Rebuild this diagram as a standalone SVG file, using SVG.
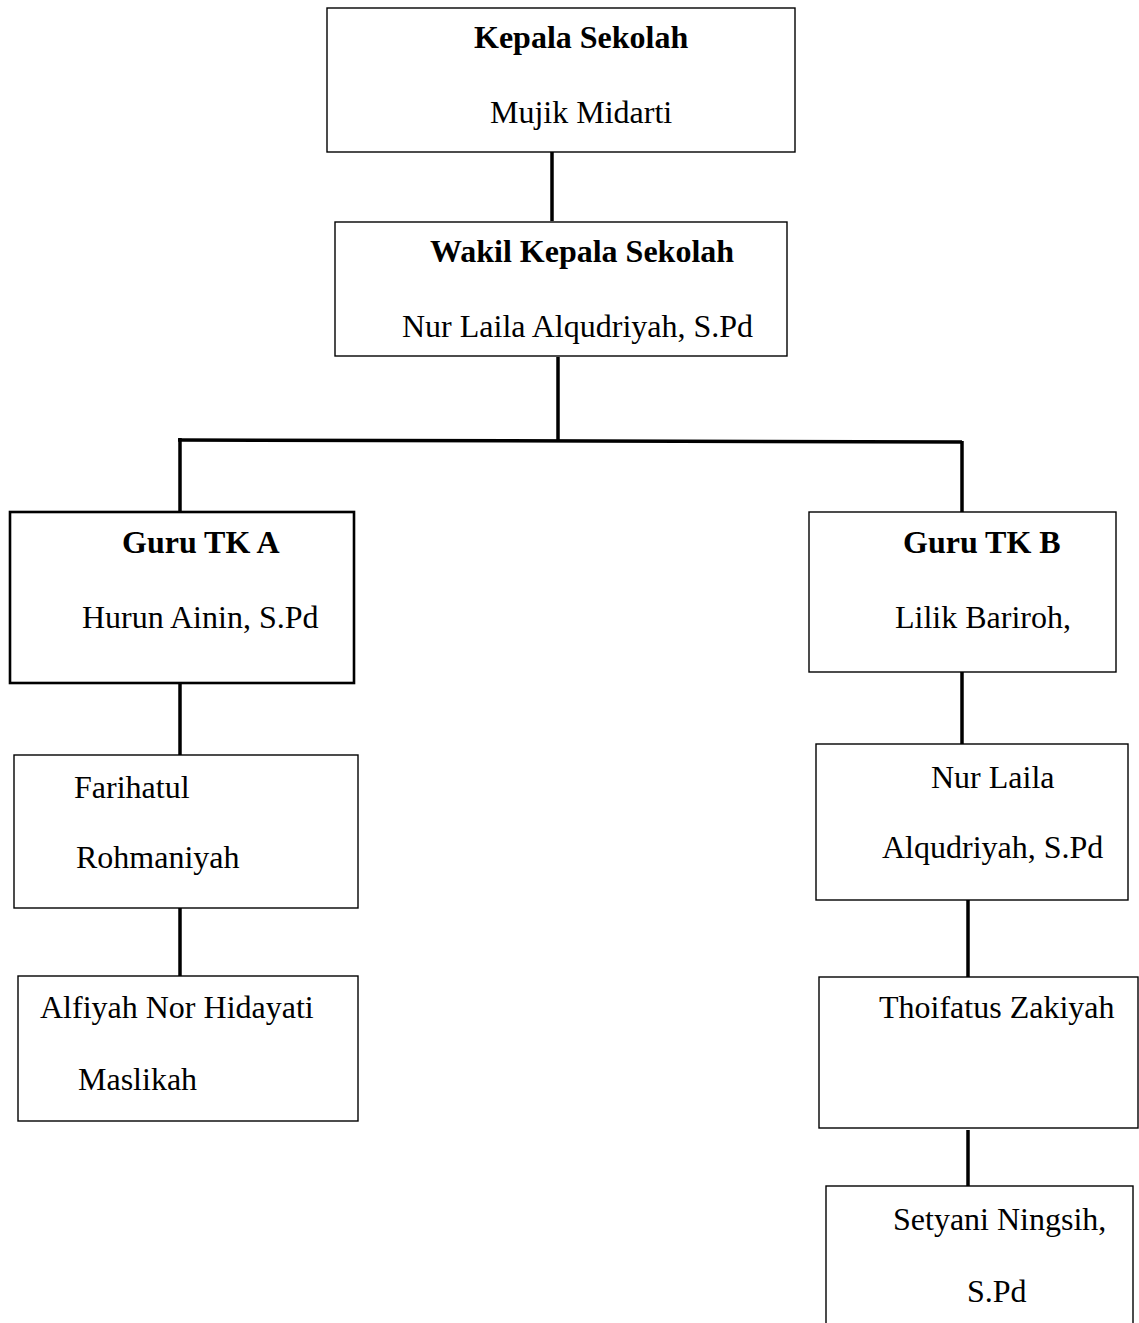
<svg xmlns="http://www.w3.org/2000/svg" width="1139" height="1323" viewBox="0 0 1139 1323">
<style>
.box{fill:#fff;stroke:#000;stroke-width:1.4}
.thick{stroke-width:2.6}
.t{font-family:"Liberation Serif","Times New Roman",serif;font-size:32px;fill:#000}
.b{font-weight:bold}
.c{stroke:#000;stroke-width:3.5;fill:none}
</style>
<rect width="1139" height="1323" fill="#fff"/>
<g id="connectors">
<line class="c" x1="552" y1="152" x2="552" y2="221"/>
<line class="c" x1="558" y1="357" x2="558" y2="441"/>
<line class="c" x1="178" y1="440" x2="962" y2="442"/>
<line class="c" x1="180" y1="438" x2="180" y2="512"/>
<line class="c" x1="962" y1="441" x2="962" y2="512"/>
<line class="c" x1="180" y1="683" x2="180" y2="755"/>
<line class="c" x1="180" y1="908" x2="180" y2="976"/>
<line class="c" x1="962" y1="672" x2="962" y2="744"/>
<line class="c" x1="968" y1="900" x2="968" y2="977"/>
<line class="c" x1="968" y1="1130" x2="968" y2="1186"/>
</g>
<g id="kepala">
<rect class="box" x="327" y="8" width="468" height="144"/>
<text class="t b" x="474" y="48">Kepala Sekolah</text>
<text class="t" x="490" y="123">Mujik Midarti</text>
</g>
<g id="wakil">
<rect class="box" x="335" y="222" width="452" height="134"/>
<text class="t b" x="430" y="262">Wakil Kepala Sekolah</text>
<text class="t" x="402" y="337">Nur Laila Alqudriyah, S.Pd</text>
</g>
<g id="gurua">
<rect class="box thick" x="10" y="512" width="344" height="171"/>
<text class="t b" x="122" y="553">Guru TK A</text>
<text class="t" x="82" y="628">Hurun Ainin, S.Pd</text>
</g>
<g id="farihatul">
<rect class="box" x="14" y="755" width="344" height="153"/>
<text class="t" x="74" y="798">Farihatul</text>
<text class="t" x="76" y="868">Rohmaniyah</text>
</g>
<g id="alfiyah">
<rect class="box" x="18" y="976" width="340" height="145"/>
<text class="t" x="40" y="1018">Alfiyah Nor Hidayati</text>
<text class="t" x="78" y="1090">Maslikah</text>
</g>
<g id="gurub">
<rect class="box" x="809" y="512" width="307" height="160"/>
<text class="t b" x="903" y="553">Guru TK B</text>
<text class="t" x="895" y="628">Lilik Bariroh,</text>
</g>
<g id="nurlaila">
<rect class="box" x="816" y="744" width="312" height="156"/>
<text class="t" x="931" y="788">Nur Laila</text>
<text class="t" x="882" y="858">Alqudriyah, S.Pd</text>
</g>
<g id="thoifatus">
<rect class="box" x="819" y="977" width="319" height="151"/>
<text class="t" x="879" y="1018">Thoifatus Zakiyah</text>
</g>
<g id="setyani">
<rect class="box" x="826" y="1186" width="307" height="160"/>
<text class="t" x="893" y="1230">Setyani Ningsih,</text>
<text class="t" x="967" y="1302">S.Pd</text>
</g>
</svg>
